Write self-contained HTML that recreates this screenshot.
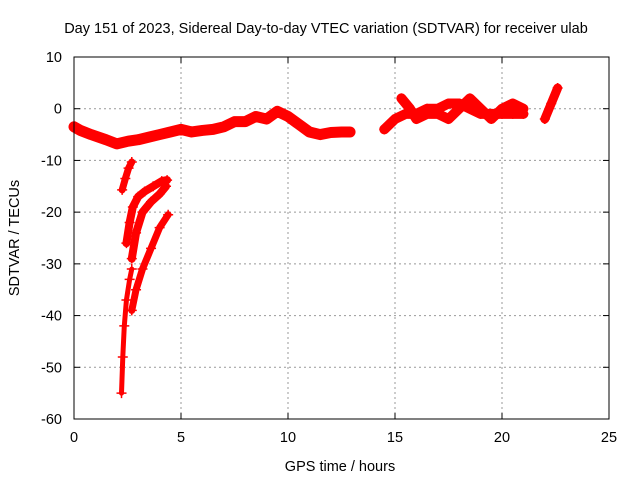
<!DOCTYPE html>
<html><head><meta charset="utf-8"><style>
body{margin:0;background:#fff;}
svg{display:block;font-family:"Liberation Sans",sans-serif;}
</style></head><body>
<svg id="c" width="640" height="480">
<text x="326" y="33" text-anchor="middle" font-size="14.5">Day 151 of 2023, Sidereal Day-to-day VTEC variation (SDTVAR) for receiver ulab</text>
<text x="340" y="471" text-anchor="middle" font-size="14.5">GPS time / hours</text>
<text transform="translate(19,238) rotate(-90)" text-anchor="middle" font-size="14.5">SDTVAR / TECUs</text>
<g id="grid"></g>
<g id="marks"></g>
<rect x="74" y="57" width="535" height="362" fill="none" stroke="#000"/>
<g id="ticks"></g>
</svg>
<script>
const xTicks=[0,5,10,15,20,25];
const yTicks=[10,0,-10,-20,-30,-40,-50,-60];
const mainX=[0,0.3,0.8,1.5,2,2.5,3,3.5,4,4.5,5,5.5,6,6.5,7,7.5,8,8.5,9,9.5,10,10.5,11,11.5,12,12.5,12.9];
const mainY=[-3.5,-4.2,-5,-6,-6.8,-6.3,-6,-5.5,-5,-4.5,-4,-4.5,-4.2,-4,-3.5,-2.5,-2.5,-1.5,-2,-0.5,-1.5,-3,-4.5,-5,-4.6,-4.5,-4.5];
const lateAX=[14.5,15,15.5,16,16.5,17,17.5,18,18.5,19,19.5,20,20.5,21];
const lateAY=[-4,-2,-1,-1,0,0,1,1,0,-1,-1,-1,-1,-1];
const lateBX=[15.3,15.7,16,16.5,17,17.5,18,18.5,19,19.5,20,20.5,21];
const lateBY=[2,0,-2,-1,-1,-2,0,2,0,-2,0,1,0];
const lateCX=[22,22.3,22.6];
const lateCY=[-2,1,4];
const dropAX=[2.22,2.28,2.35,2.45,2.6,2.7];
const dropAY=[-55,-48,-42,-37,-33,-31];
const dropBX=[2.45,2.6,2.75,3.0,3.3,3.7,4.1,4.35];
const dropBY=[-26,-22,-19,-17,-16,-15,-14,-13.8];
const dropB2X=[2.7,2.9,3.2,3.6,4.0,4.3];
const dropB2Y=[-29,-24,-20,-18,-16.5,-15];
const dropCX=[2.7,2.9,3.2,3.6,4.0,4.4];
const dropCY=[-39,-35,-31,-27,-23,-20.5];
const dropDX=[2.25,2.4,2.55,2.7];
const dropDY=[-15.7,-13.5,-11.5,-10.3];
const NS="http://www.w3.org/2000/svg";
const xs=v=>74+v*535/25, ys=v=>57+(10-v)*362/70;
const grid=document.getElementById('grid'),ticks=document.getElementById('ticks'),marks=document.getElementById('marks');
function mk(t,a,p){const e=document.createElementNS(NS,t);for(const k in a)e.setAttribute(k,a[k]);p.appendChild(e);return e;}
xTicks.forEach(t=>{const x=xs(t);
 if(t>0&&t<25){const g=mk('line',{x1:x,x2:x,y1:57,y2:419,stroke:'#999','stroke-dasharray':'2,3'},grid);
 
 }
 mk('line',{x1:x,x2:x,y1:419,y2:413,stroke:'#000'},ticks);mk('line',{x1:x,x2:x,y1:57,y2:63,stroke:'#000'},ticks);
 const l=mk('text',{x:x,y:442,'text-anchor':'middle','font-size':'14.5'},ticks);l.textContent=t;
 
 });
yTicks.forEach(t=>{const y=ys(t);
 if(t<10&&t>-60){const g=mk('line',{x1:74,x2:609,y1:y,y2:y,stroke:'#999','stroke-dasharray':'2,3'},grid);
 
 }
 mk('line',{x1:74,x2:80,y1:y,y2:y,stroke:'#000'},ticks);mk('line',{x1:609,x2:603,y1:y,y2:y,stroke:'#000'},ticks);
 const l=mk('text',{x:62,y:y+5,'text-anchor':'end','font-size':'14.5'},ticks);l.textContent=t;
 
 });
const series=[[mainX,mainY,'main-track',11],[lateAX,lateAY,'late-track-a',10],[lateBX,lateBY,'late-track-b',10],[lateCX,lateCY,'late-track-c',9],
[dropAX,dropAY,'drop-track-a',5],[dropBX,dropBY,'drop-track-b',8],[dropB2X,dropB2Y,'drop-track-b2',8],[dropCX,dropCY,'drop-track-c',7],[dropDX,dropDY,'drop-track-d',7]];
series.forEach(([X,Y,n,w])=>{
 const d=X.map((x,i)=>(i?'L':'M')+xs(x)+','+ys(Y[i])).join('');
 const p=mk('path',{d:d,fill:'none',stroke:'#f00','stroke-width':w,'stroke-linejoin':'round','stroke-linecap':'round'},marks);
 
 
 X.forEach((x,i)=>{const cx=xs(x),cy=ys(Y[i]);
  const m=mk('path',{d:`M${cx-5},${cy}h10M${cx},${cy-5}v10`,stroke:'#f00','stroke-width':1.5},marks);
  
  });
});
</script>
</body></html>
